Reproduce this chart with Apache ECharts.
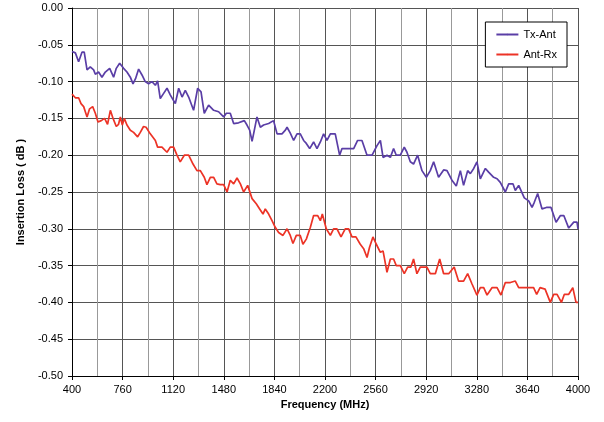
<!DOCTYPE html>
<html><head><meta charset="utf-8">
<script src="https://cdn.jsdelivr.net/npm/echarts@6/dist/echarts.min.js"></script>
<style>html,body{margin:0;padding:0;background:#fff}#c{width:604px;height:422px}</style>
</head><body><div id="c"></div>
<script>
const txFreq=[400,424,447,471,487,507,530,554,566,589,613,637,668,696,715,739,767,791,815,834,852,874,898,921,945,969,993,1009,1028,1052,1076,1099,1135,1159,1183,1206,1230,1265,1294,1318,1341,1372,1408,1443,1479,1498,1526,1550,1585,1626,1645,1664,1681,1692,1716,1740,1763,1799,1834,1859,1894,1918,1930,1953,1977,2001,2024,2048,2067,2091,2119,2143,2167,2190,2214,2238,2273,2304,2321,2357,2404,2432,2463,2499,2535,2570,2594,2613,2641,2665,2688,2707,2736,2764,2783,2807,2830,2859,2890,2921,2949,2973,3008,3044,3068,3103,3134,3163,3186,3215,3234,3258,3281,3305,3341,3364,3400,3424,3447,3483,3507,3538,3554,3578,3618,3649,3673,3689,3713,3744,3775,3808,3844,3875,3899,3934,3970,3993,4000];
const txLoss=[-0.059,-0.061,-0.073,-0.060,-0.060,-0.084,-0.080,-0.084,-0.090,-0.087,-0.094,-0.087,-0.082,-0.094,-0.082,-0.075,-0.082,-0.087,-0.094,-0.103,-0.096,-0.083,-0.091,-0.100,-0.103,-0.100,-0.105,-0.099,-0.123,-0.116,-0.109,-0.118,-0.130,-0.109,-0.121,-0.112,-0.121,-0.139,-0.109,-0.114,-0.143,-0.132,-0.139,-0.141,-0.148,-0.143,-0.143,-0.157,-0.156,-0.153,-0.159,-0.166,-0.181,-0.171,-0.148,-0.162,-0.159,-0.157,-0.153,-0.171,-0.171,-0.166,-0.162,-0.170,-0.180,-0.171,-0.171,-0.180,-0.184,-0.191,-0.182,-0.191,-0.182,-0.171,-0.180,-0.171,-0.171,-0.200,-0.191,-0.191,-0.191,-0.180,-0.180,-0.200,-0.200,-0.187,-0.180,-0.203,-0.200,-0.203,-0.191,-0.200,-0.200,-0.189,-0.196,-0.209,-0.212,-0.200,-0.221,-0.230,-0.221,-0.209,-0.230,-0.220,-0.221,-0.234,-0.242,-0.221,-0.241,-0.221,-0.225,-0.218,-0.209,-0.232,-0.218,-0.223,-0.230,-0.232,-0.237,-0.250,-0.239,-0.239,-0.248,-0.241,-0.258,-0.262,-0.271,-0.264,-0.252,-0.273,-0.271,-0.271,-0.291,-0.282,-0.282,-0.299,-0.291,-0.291,-0.300];
const rxFreq=[400,424,447,464,483,507,525,547,566,585,608,632,653,673,692,715,731,744,758,772,791,815,838,867,886,909,927,957,993,1009,1040,1076,1099,1123,1147,1170,1199,1230,1261,1289,1313,1341,1360,1384,1408,1431,1455,1479,1503,1526,1550,1574,1598,1621,1650,1681,1711,1735,1759,1775,1799,1823,1846,1870,1901,1930,1953,1972,1996,2024,2043,2067,2096,2119,2148,2167,2181,2209,2238,2261,2285,2314,2344,2368,2392,2420,2451,2475,2499,2517,2541,2565,2594,2613,2641,2665,2688,2707,2736,2764,2788,2811,2830,2854,2878,2902,2925,2949,2985,3016,3044,3080,3119,3150,3186,3215,3246,3281,3305,3329,3353,3388,3424,3452,3483,3519,3554,3578,3613,3649,3684,3706,3730,3766,3803,3827,3851,3882,3903,3934,3963,3986,4000];
const rxLoss=[-0.117,-0.122,-0.122,-0.130,-0.134,-0.148,-0.137,-0.134,-0.143,-0.155,-0.153,-0.150,-0.158,-0.139,-0.150,-0.161,-0.158,-0.148,-0.159,-0.150,-0.159,-0.166,-0.169,-0.175,-0.169,-0.161,-0.162,-0.171,-0.180,-0.189,-0.189,-0.196,-0.189,-0.189,-0.200,-0.209,-0.200,-0.200,-0.212,-0.221,-0.221,-0.230,-0.240,-0.230,-0.230,-0.239,-0.240,-0.240,-0.250,-0.234,-0.239,-0.231,-0.239,-0.250,-0.241,-0.259,-0.266,-0.273,-0.280,-0.273,-0.280,-0.289,-0.298,-0.305,-0.309,-0.300,-0.309,-0.320,-0.309,-0.309,-0.321,-0.314,-0.298,-0.282,-0.282,-0.289,-0.280,-0.300,-0.309,-0.300,-0.300,-0.311,-0.300,-0.300,-0.311,-0.311,-0.321,-0.327,-0.339,-0.325,-0.311,-0.321,-0.332,-0.330,-0.359,-0.341,-0.341,-0.350,-0.350,-0.361,-0.352,-0.352,-0.341,-0.361,-0.352,-0.352,-0.352,-0.361,-0.361,-0.341,-0.361,-0.361,-0.352,-0.371,-0.371,-0.361,-0.375,-0.390,-0.380,-0.380,-0.390,-0.380,-0.380,-0.390,-0.373,-0.373,-0.371,-0.380,-0.380,-0.380,-0.380,-0.389,-0.380,-0.382,-0.400,-0.389,-0.389,-0.400,-0.389,-0.389,-0.380,-0.400,-0.400];
const seriesNames=['Tx-Ant','Ant-Rx'];

const font='"Liberation Sans", Arial, sans-serif';
const chart=echarts.init(document.getElementById('c'),null,{renderer:'canvas'});
chart.setOption({
  animation:false,
  textStyle:{fontFamily:font},
  grid:{left:72,right:26,top:8,bottom:46,containLabel:false},
  legend:{
    data:seriesNames, orient:'vertical', right:37, top:22,
    backgroundColor:'#fff', borderColor:'#000', borderWidth:1,
    padding:[7,10,7,10], itemGap:9, itemWidth:22, itemHeight:2,
    textStyle:{fontFamily:font,fontSize:11,color:'#000'}
  },
  xAxis:{
    type:'value', min:400, max:4000, interval:360,
    name:'Frequency (MHz)', nameLocation:'middle', nameGap:21,
    nameTextStyle:{fontFamily:font,fontSize:11,fontWeight:'bold',color:'#000'},
    axisLine:{show:true,onZero:false,lineStyle:{color:'#000',width:1}},
    axisTick:{show:true,length:4,lineStyle:{color:'#000'}},
    axisLabel:{fontFamily:font,fontSize:11,color:'#000',margin:8,formatter:v=>String(v)},
    splitLine:{show:true,lineStyle:{color:'#555',width:1}},
    minorTick:{show:false,splitNumber:2},
    minorSplitLine:{show:true,lineStyle:{color:'#999',width:1}}
  },
  yAxis:{
    type:'value', min:-0.5, max:0, interval:0.05,
    name:'Insertion Loss ( dB )', nameLocation:'middle', nameGap:46,
    nameTextStyle:{fontFamily:font,fontSize:11,fontWeight:'bold',color:'#000'},
    axisLine:{show:true,lineStyle:{color:'#000',width:1}},
    axisTick:{show:true,length:4,lineStyle:{color:'#000'}},
    axisLabel:{fontFamily:font,fontSize:11,color:'#000',margin:9,formatter:v=>v.toFixed(2)},
    splitLine:{show:true,lineStyle:{color:'#555',width:1}}
  },
  series:[
    {name:seriesNames[0],type:'line',symbol:'none',data:txFreq.map((f,i)=>[f,txLoss[i]]),lineStyle:{color:'#5a3ea6',width:1.7},itemStyle:{color:'#5a3ea6'}},
    {name:seriesNames[1],type:'line',symbol:'none',data:rxFreq.map((f,i)=>[f,rxLoss[i]]),lineStyle:{color:'#ec3326',width:1.7},itemStyle:{color:'#ec3326'}}
  ]
});
</script></body></html>
